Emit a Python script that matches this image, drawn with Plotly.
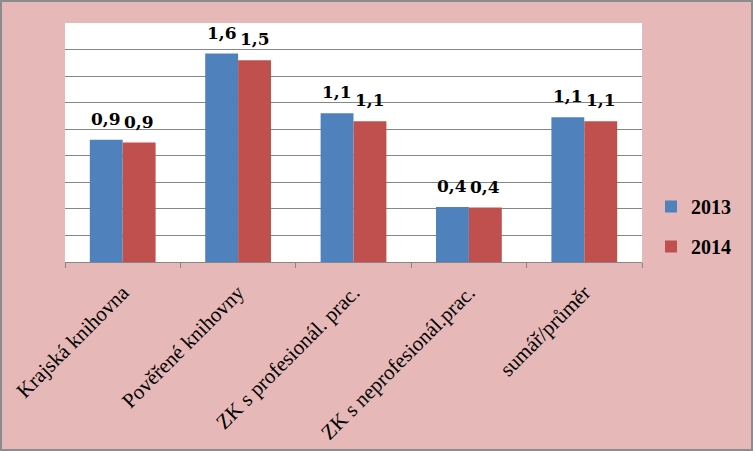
import plotly.graph_objects as go

categories = ["Krajská knihovna", "Pověřené knihovny", "ZK s profesionál. prac.",
              "ZK s neprofesionál.prac.", "sumář/průměr"]
series_names = ["2013", "2014"]
values_2013 = [0.92, 1.57, 1.12, 0.415, 1.09]
values_2014 = [0.90, 1.52, 1.06, 0.41, 1.06]
colors = ["#4F81BD", "#C0504D"]

W, H = 753, 451
L, R, T, B = 65, 111, 23, 189
pw, ph = W - L - R, H - T - B

bargap = 0.43
fig = go.Figure()
for i, (name, vals) in enumerate([(series_names[0], values_2013), (series_names[1], values_2014)]):
    fig.add_trace(go.Bar(
        x=categories, y=vals, name=name, marker_color=colors[i],
        marker_line_width=0, legendgroup=name,
    ))

def fmt(v):
    return f"{v:.1f}".replace(".", ",")

bw = (1 - bargap) / 2
annotations = []
for i, vals in enumerate([values_2013, values_2014]):
    off = (-bw / 2) if i == 0 else (bw / 2)
    for j, v in enumerate(vals):
        annotations.append(dict(
            x=j + off, y=v, xref="x", yref="y", text=fmt(v), showarrow=False,
            yanchor="bottom", yshift=9,
            font=dict(family="DejaVu Serif", size=17, color="black", weight="bold"),
        ))

fig.update_layout(
    width=W, height=H,
    margin=dict(l=L, r=R, t=T, b=B, pad=0, autoexpand=False),
    paper_bgcolor="#E6B9B8",
    plot_bgcolor="white",
    barmode="group", bargap=bargap, bargroupgap=0,
    showlegend=True,
    legend=dict(
        x=(651 - L) / pw, xanchor="left",
        y=(262 - 226.5) / ph, yanchor="middle",
        font=dict(family="Liberation Serif", size=20, color="black", weight="bold"),
        bgcolor="rgba(0,0,0,0)", tracegroupgap=11, traceorder="grouped",
    ),
    annotations=annotations,
    shapes=[dict(type="rect", xref="paper", yref="paper",
                 x0=-(L - 1) / pw, x1=(W - L - 1) / pw,
                 y0=-(B - 1) / ph, y1=(H - B - 1) / ph,
                 line=dict(color="#8C8C8C", width=2), fillcolor="rgba(0,0,0,0)",
                 layer="above")],
)
fig.update_xaxes(
    type="category", tickangle=-45, showgrid=False, automargin=False,
    showline=True, linecolor="#868686", linewidth=1,
    ticks="outside", tickson="boundaries", ticklen=5, tickcolor="#868686",
    ticklabelstandoff=9,
    tickfont=dict(family="Liberation Serif", size=21, color="black"),
)
fig.update_yaxes(
    range=[0, 1.8], dtick=0.2, showticklabels=False, automargin=False,
    showgrid=True, gridcolor="#868686", gridwidth=1,
    zeroline=False, showline=False, ticks="",
)
fig.update_traces(cliponaxis=False)

fig.write_html("out.html")
